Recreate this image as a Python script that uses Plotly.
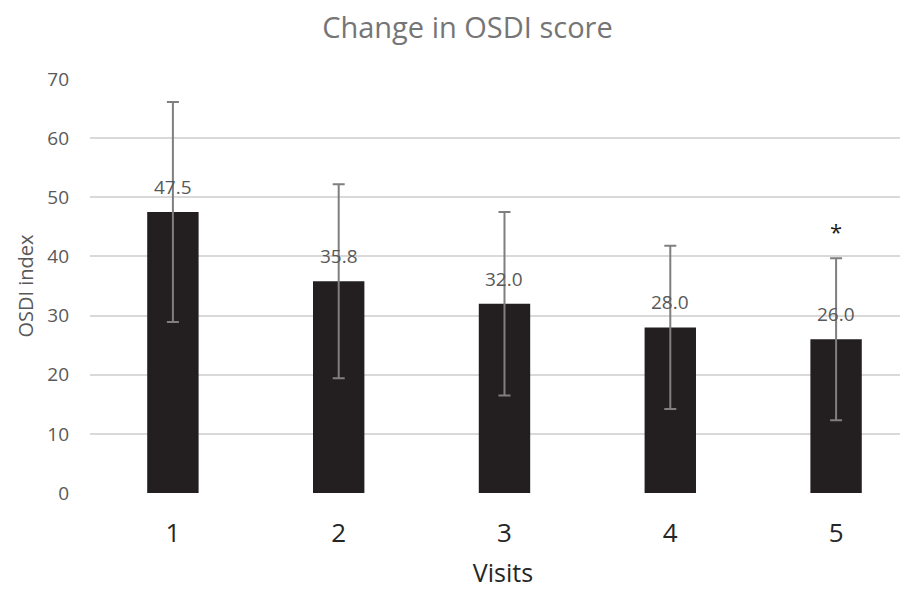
import plotly.graph_objects as go

visits = [1, 2, 3, 4, 5]
tick_labels = ["1", "2", "3", "4", "5"]
osdi_mean = [47.5, 35.8, 32.0, 28.0, 26.0]
osdi_sd = [18.6, 16.4, 15.5, 13.8, 13.7]
value_labels = ["47.5", "35.8", "32.0", "28.0", "26.0"]
significance = ["", "", "", "", "*"]

FONT = "Open Sans"

fig = go.Figure()
fig.add_trace(go.Bar(
    x=visits, y=osdi_mean, width=0.31,
    marker=dict(color="#231f20", line=dict(width=0)),
    error_y=dict(type="data", array=osdi_sd, visible=True,
                 color="#7f7f7f", thickness=2, width=6),
    showlegend=False, hoverinfo="skip",
))

for x, v, lab in zip(visits, osdi_mean, value_labels):
    fig.add_annotation(x=x, y=v, text=lab, showarrow=False,
                       yanchor="bottom", yshift=10,
                       font=dict(family=FONT, size=19, color="#595959"))

for x, v, s, sig in zip(visits, osdi_mean, osdi_sd, significance):
    if sig:
        fig.add_annotation(x=x, y=v + s, text=sig, showarrow=False,
                           yanchor="bottom", yshift=10,
                           font=dict(family=FONT, size=22, color="#231f20"))

fig.update_layout(
    width=908, height=590,
    margin=dict(l=82, r=0, t=71, b=105),
    plot_bgcolor="white", paper_bgcolor="white",
    title=dict(text="Change in OSDI score", x=0.506, xanchor="center",
               y=1 - 20 / 590, yanchor="middle", yref="container",
               font=dict(family=FONT, size=29, color="#757575")),
    xaxis=dict(range=[0.5, 5.482], tickvals=visits, ticktext=tick_labels,
               showgrid=False, zeroline=False, showline=False,
               ticks="", ticklabelstandoff=22,
               tickfont=dict(family=FONT, size=26, color="#262626"),
               title=dict(text="Visits", standoff=15,
                          font=dict(family=FONT, size=25, color="#262626"))),
    yaxis=dict(range=[0, 70], dtick=10, showgrid=True, gridcolor="#d9d9d9",
               gridwidth=1.5, zeroline=False, showline=False, ticks="",
               ticklabelstandoff=20,
               tickfont=dict(family=FONT, size=19, color="#595959"),
               title=dict(text="OSDI index", standoff=8,
                          font=dict(family=FONT, size=20, color="#595959"))),
)

fig.write_html("out.html")
